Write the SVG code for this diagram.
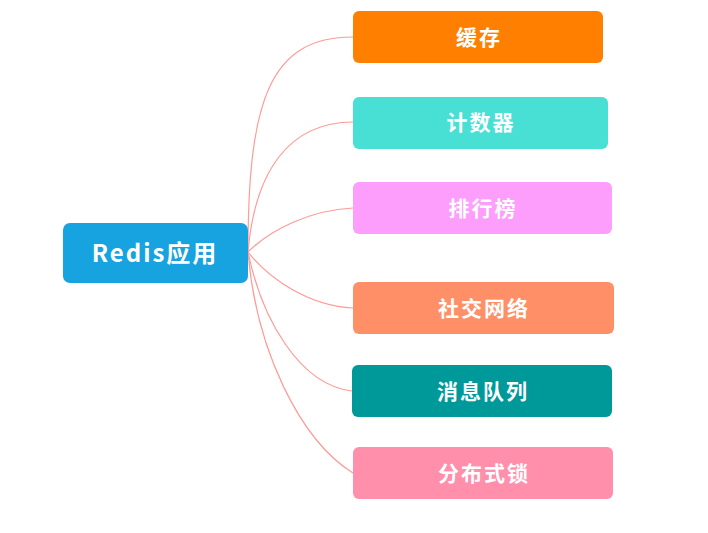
<svg xmlns="http://www.w3.org/2000/svg" width="708" height="533" viewBox="0 0 708 533">
<style>
.box{stroke:none}
.t{font-family:"Noto Sans CJK SC","Noto Sans",sans-serif;font-weight:700;fill:#fff;text-anchor:middle;dominant-baseline:central}
.c{font-size:21px;letter-spacing:2px}
.r{font-size:24px;letter-spacing:2px}
.link{fill:none;stroke:#ff9a96;stroke-width:1.2}
</style>
<rect width="708" height="533" fill="#fff"/>
<g id="connectors">
<path class="link" d="M248,252 C248,100 270,37 353,37"/>
<path class="link" d="M248,252 C255,170 290,122 353,122"/>
<path class="link" d="M248,252 C270,230 310,210 353,208"/>
<path class="link" d="M248,252 C270,280 310,306 353,308"/>
<path class="link" d="M248,252 C262,320 300,385 352,391"/>
<path class="link" d="M248,252 C256,350 300,440 353,473"/>
</g>
<g id="root">
<rect class="box" x="63" y="223" width="185" height="60" rx="7" fill="#17a2e0"/>
<text class="t r" x="155" y="251">Redis应用</text>
</g>
<g id="n1">
<rect class="box" x="353" y="11" width="250" height="52" rx="6" fill="#ff8000"/>
<text class="t c" x="479" y="36">缓存</text>
</g>
<g id="n2">
<rect class="box" x="353" y="97" width="255" height="52" rx="6" fill="#48e0d5"/>
<text class="t c" x="481" y="121">计数器</text>
</g>
<g id="n3">
<rect class="box" x="353" y="182" width="259" height="52" rx="6" fill="#fd9efd"/>
<text class="t c" x="483" y="207">排行榜</text>
</g>
<g id="n4">
<rect class="box" x="353" y="282" width="261" height="52" rx="6" fill="#ff8f66"/>
<text class="t c" x="484" y="307">社交网络</text>
</g>
<g id="n5">
<rect class="box" x="352" y="365" width="260" height="52" rx="6" fill="#009999"/>
<text class="t c" x="483" y="390">消息队列</text>
</g>
<g id="n6">
<rect class="box" x="353" y="447" width="260" height="52" rx="6" fill="#ff8fab"/>
<text class="t c" x="484" y="472">分布式锁</text>
</g>
</svg>
